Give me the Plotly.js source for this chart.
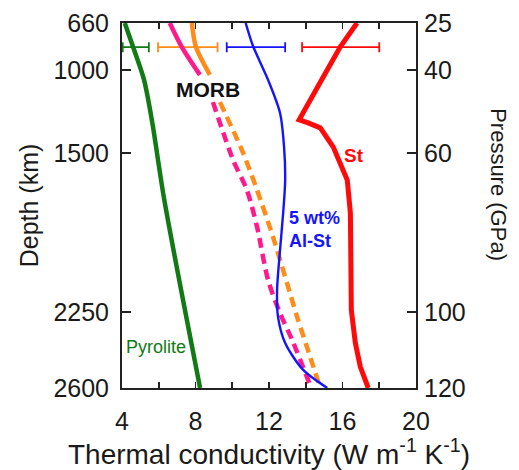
<!DOCTYPE html>
<html>
<head>
<meta charset="utf-8">
<script src="https://cdn.plot.ly/plotly-3.0.1.min.js"></script>
<style>
  html, body { margin: 0; padding: 0; background: #fff; }
  #chart { width: 519px; height: 470px; }
</style>
</head>
<body>
<div id="chart"></div>
<script>
// ---- axis ticks (tick positions, in the pressure-like axis unit) ----
const kLabelVals  = [4, 8, 12, 16, 20];
const kTickText   = ['4', '8', '12', '16', '20'];
const kAllTicks   = [4, 6, 8, 10, 12, 14, 16, 18, 20];
const yTickPos    = [25, 37.2, 58.8, 100.2, 120];
const depthLabels = ['660', '1000', '1500', '2250', '2600'];
const pressLabels = ['25', '40', '60', '100', '120'];

// ---- Pyrolite (green) ----
const pyroliteK = [4.15, 4.6, 5.2, 5.65, 6.3, 8.25];
const pyroliteP = [25, 31.2, 39.8, 51.0, 71.0, 120];

// ---- MORB (pink) ----
const morbPinkSolidK = [6.60, 7.25, 8.24];
const morbPinkSolidP = [25, 31.2, 38.5];
const morbPinkDashK  = [8.95, 10.05, 10.80, 11.35, 11.95, 12.60, 13.26, 14.30];
const morbPinkDashP  = [45.6, 60.7, 68.5, 78.1, 91.9, 100.5, 107.5, 120];

// ---- MORB (orange) ----
const morbOrangeSolidK = [7.80, 8.02, 8.78];
const morbOrangeSolidP = [25, 31.2, 38.5];
const morbOrangeDashK  = [9.33, 10.59, 11.35, 12.22, 12.98, 13.53, 14.24, 14.79];
const morbOrangeDashP  = [45.6, 58.8, 68.5, 80.7, 92.7, 101.5, 111.9, 120];

// ---- 5 wt% Al-St (blue) ----
const alStK = [10.73, 11.13, 11.95, 12.60, 12.82, 12.88, 12.77, 12.60, 12.44, 12.49, 12.88, 13.86, 15.17];
const alStP = [25, 31.0, 39.8, 48.4, 57.3, 65.9, 74.5, 84.1, 94.5, 101.5, 108.3, 115.3, 120];

// ---- St (red) ----
const stK = [16.79, 15.88, 14.79, 13.79, 13.64, 14.13, 14.79, 15.50, 16.26, 16.43, 16.43, 16.48, 16.70, 16.97, 17.40];
const stP = [25, 31.2, 40.4, 48.9, 50.2, 51.0, 52.3, 57.3, 65.9, 74.5, 84.1, 99.7, 108.3, 114.5, 120];

// ---- uncertainty bars ----
const errK    = [4.75, 7.58, 11.29, 15.90];
const errHalf = [0.71, 1.62, 1.59, 2.10];
const errP    = [31.3, 31.3, 31.3, 31.3];

const GREEN = '#117a14', PINK = '#ff1a8c', ORANGE = '#ff8c1a', BLUE = '#1414ff', RED = '#ff0a0a';
const errColors = [GREEN, ORANGE, BLUE, RED];

const traces = [];
errK.forEach((k, i) => {
  traces.push({
    x: [k], y: [errP[i]], type: 'scatter', mode: 'markers',
    marker: { size: 1, color: 'rgba(0,0,0,0)' },
    error_x: { type: 'data', array: [errHalf[i]], color: errColors[i], thickness: 1.8, width: 5 },
    hoverinfo: 'skip', showlegend: false
  });
});

function line(x, y, color, width, dash, shape) {
  return { x: x, y: y, type: 'scatter', mode: 'lines',
    line: { color: color, width: width, dash: dash || 'solid', shape: shape || 'linear', smoothing: 0.8 },
    hoverinfo: 'skip', showlegend: false };
}

traces.push(line(pyroliteK, pyroliteP, GREEN, 4.5, 'solid', 'spline'));
traces.push(line(morbPinkSolidK, morbPinkSolidP, PINK, 4.5, 'solid', 'spline'));
traces.push(line(morbOrangeSolidK, morbOrangeSolidP, ORANGE, 4.5, 'solid', 'spline'));
traces.push(line(morbPinkDashK, morbPinkDashP, PINK, 4.5, '10px,6px', 'spline'));
traces.push(line(morbOrangeDashK, morbOrangeDashP, ORANGE, 4.5, '10px,6px', 'spline'));
traces.push(line(alStK, alStP, BLUE, 2.4, 'solid', 'spline'));
traces.push(line(stK, stP, RED, 5, 'solid', 'linear'));
// anchor traces for the right-hand and top axes
traces.push({ x: [null], y: [null], yaxis: 'y2', type: 'scatter', mode: 'lines', showlegend: false, hoverinfo: 'skip' });
traces.push({ x: [null], y: [null], xaxis: 'x2', type: 'scatter', mode: 'lines', showlegend: false, hoverinfo: 'skip' });

const FONT = 'Liberation Sans, Arial, sans-serif';
const TXT = '#1a1a1a';
const AX = '#222';

const layout = {
  width: 519, height: 470,
  margin: { l: 122, r: 103, t: 23, b: 82, pad: 0 },
  paper_bgcolor: '#fff', plot_bgcolor: '#fff',
  showlegend: false,
  font: { family: FONT, color: TXT, size: 25 },
  xaxis: {
    range: [4, 20], tickvals: kLabelVals, ticktext: kTickText,
    ticks: 'inside', ticklen: 6, tickwidth: 1.8, tickcolor: AX,
    minor: { dtick: 2, tick0: 0, ticks: 'inside', ticklen: 6, tickwidth: 1.8, tickcolor: AX, showgrid: false },
    showline: true, linecolor: AX, linewidth: 2,
    showgrid: false, zeroline: false, ticklabelstandoff: 10,
    tickfont: { size: 25, family: FONT, color: TXT },
    title: { text: 'Thermal conductivity (W m<sup>-1</sup> K<sup>-1</sup>)', font: { size: 28, family: FONT, color: TXT }, standoff: 12 }
  },
  xaxis2: {
    overlaying: 'x', side: 'top', anchor: 'y',
    range: [4, 20], tickvals: kAllTicks, showticklabels: false,
    ticks: 'inside', ticklen: 6, tickwidth: 1.8, tickcolor: AX,
    showline: true, linecolor: AX, linewidth: 2,
    showgrid: false, zeroline: false
  },
  yaxis: {
    range: [120, 25], tickvals: yTickPos, ticktext: depthLabels,
    ticks: 'inside', ticklen: 9, tickwidth: 1.8, tickcolor: AX,
    showline: true, linecolor: AX, linewidth: 2,
    showgrid: false, zeroline: false, ticklabelstandoff: 6,
    tickfont: { size: 25, family: FONT, color: TXT },
    title: { text: 'Depth (km)', font: { size: 25, family: FONT, color: TXT }, standoff: 8 }
  },
  yaxis2: {
    overlaying: 'y', side: 'right', anchor: 'x',
    range: [120, 25], tickvals: yTickPos, ticktext: pressLabels,
    ticks: 'inside', ticklen: 9, tickwidth: 1.8, tickcolor: AX,
    showline: true, linecolor: AX, linewidth: 2,
    showgrid: false, zeroline: false, ticklabelstandoff: 1,
    tickfont: { size: 25, family: FONT, color: TXT }
  },
  annotations: [
    { text: 'Pressure (GPa)', xref: 'paper', yref: 'paper', x: 1.282, y: 0.556, textangle: 90,
      showarrow: false, font: { size: 22, family: FONT, color: TXT }, xanchor: 'center', yanchor: 'middle' },
    { text: '<b>MORB</b>', x: 8.70, y: 42.4, xref: 'x', yref: 'y', showarrow: false,
      font: { size: 21, family: FONT, color: '#111' } },
    { text: '<b>St</b>', x: 16.64, y: 59.6, xref: 'x', yref: 'y', showarrow: false,
      font: { size: 19, family: FONT, color: RED } },
    { text: '<b>5 wt%<br>Al-St</b>', x: 12.98, y: 78.7, xref: 'x', yref: 'y', showarrow: false,
      xanchor: 'left', align: 'left', font: { size: 18, family: FONT, color: BLUE } },
    { text: 'Pyrolite', x: 5.84, y: 109.3, xref: 'x', yref: 'y', showarrow: false,
      font: { size: 18, family: FONT, color: GREEN } }
  ]
};

Plotly.newPlot('chart', traces, layout, { staticPlot: true, displayModeBar: false });
</script>
</body>
</html>
